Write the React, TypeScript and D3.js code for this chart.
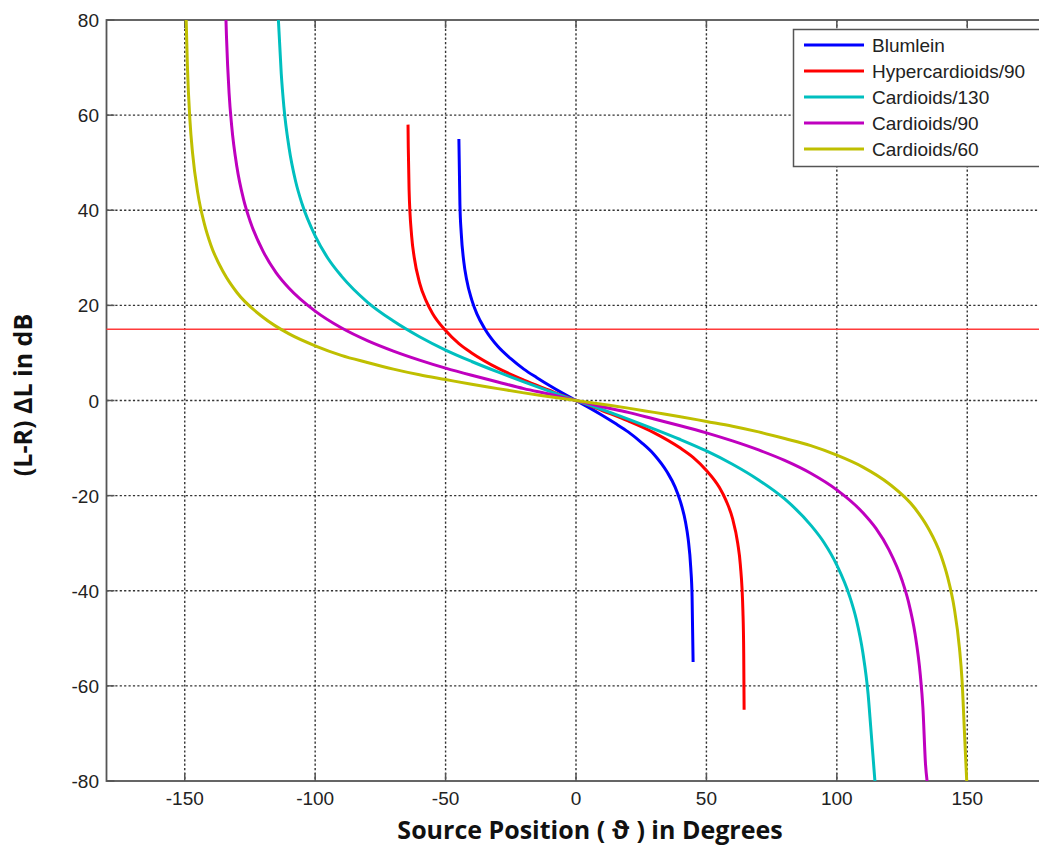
import React, { useRef, useEffect } from "react";
import * as d3 from "d3";

// Chart size
const WIDTH = 1039;
const HEIGHT = 846;
const PLOT_LEFT = 106.5;
const PLOT_RIGHT = 1045.5;
const PLOT_TOP = 20;
const PLOT_BOTTOM = 781;

const X_TICKS = [-150, -100, -50, 0, 50, 100, 150];
const Y_TICKS = [-80, -60, -40, -20, 0, 20, 40, 60, 80];
const THRESHOLD_DB = 15;

const SERIES_NAMES = ["Blumlein", "Hypercardioids/90", "Cardioids/130", "Cardioids/90", "Cardioids/60"];
const SERIES_COLORS = ["#0000ff", "#ff0000", "#00bfbf", "#bf00bf", "#bfbf00"];

// [source position in degrees, level difference in dB]
const blumlein = [
  [-44.9, 55], [-44.5, 41.2], [-44, 35.2], [-43, 29.1], [-42, 25.6], [-40, 21.2], [-38, 18.2],
  [-35, 15.1], [-30, 11.4], [-25, 8.8], [-20, 6.6], [-15, 4.8], [-10, 3.1], [-5, 1.5], [0, 0],
  [5, -1.5], [10, -3.1], [15, -4.8], [20, -6.6], [25, -8.8], [30, -11.4], [35, -15.1], [38, -18.2],
  [40, -21.2], [42, -25.6], [43, -29.1], [44, -35.2], [44.5, -41.2], [44.9, -55],
];
const hyper90 = [
  [-64.4, 58], [-64.3, 53.2], [-64, 44.4], [-63, 34.5], [-62, 30.0], [-60, 24.8], [-57.5, 21.0],
  [-55, 18.3], [-50, 14.7], [-45, 12.0], [-40, 10.0], [-30, 6.8], [-20, 4.3], [-10, 2.1], [-5, 1.0],
  [0, 0], [5, -1.0], [10, -2.1], [20, -4.3], [30, -6.8], [40, -10.0], [45, -12.0], [50, -14.7],
  [55, -18.3], [57.5, -21.0], [60, -24.8], [62, -30.0], [63, -34.5], [64, -44.4], [64.3, -53.2],
  [64.45, -65],
];
const card130 = [
  [-114.1, 80], [-113, 68.7], [-112, 61.8], [-110, 53.1], [-107.5, 46.1], [-105, 41.3], [-100, 34.6],
  [-95, 29.8], [-90, 26.2], [-80, 20.7], [-70, 16.7], [-60, 13.4], [-50, 10.6], [-40, 8.2], [-30, 6.0],
  [-20, 3.9], [-10, 1.9], [0, 0], [10, -1.9], [20, -3.9], [30, -6.0], [40, -8.2], [50, -10.6],
  [60, -13.4], [70, -16.7], [80, -20.7], [90, -26.2], [95, -29.8], [100, -34.6], [105, -41.3],
  [107.5, -46.1], [110, -53.1], [112, -61.8], [113, -68.7], [114.6, -80],
];
const card90 = [
  [-134.2, 80], [-134, 76.5], [-133, 64.6], [-132, 57.7], [-130, 49.1], [-127.5, 42.4], [-125, 37.8],
  [-120, 31.4], [-115, 26.9], [-110, 23.6], [-100, 18.8], [-90, 15.3], [-80, 12.6], [-70, 10.4],
  [-60, 8.5], [-50, 6.8], [-40, 5.3], [-30, 3.9], [-20, 2.5], [-10, 1.3], [0, 0], [10, -1.3],
  [20, -2.5], [30, -3.9], [40, -5.3], [50, -6.8], [60, -8.5], [70, -10.4], [80, -12.6], [90, -15.3],
  [100, -18.8], [110, -23.6], [115, -26.9], [120, -31.4], [125, -37.8], [127.5, -42.4], [130, -49.1],
  [132, -57.7], [133, -64.6], [134, -76.5], [134.6, -80],
];
const card60 = [
  [-149.45, 80], [-149, 70.6], [-148, 58.8], [-147, 52.0], [-145, 43.6], [-142.5, 37.2], [-140, 32.7],
  [-135, 26.8], [-130, 22.7], [-120, 17.5], [-110, 14.0], [-100, 11.5], [-90, 9.5], [-80, 8.0],
  [-70, 6.6], [-60, 5.4], [-50, 4.4], [-40, 3.4], [-30, 2.5], [-20, 1.6], [-10, 0.8], [0, 0],
  [10, -0.8], [20, -1.6], [30, -2.5], [40, -3.4], [50, -4.4], [60, -5.4], [70, -6.6], [80, -8.0],
  [90, -9.5], [100, -11.5], [110, -14.0], [120, -17.5], [130, -22.7], [135, -26.8], [140, -32.7],
  [142.5, -37.2], [145, -43.6], [147, -52.0], [148, -58.8], [149, -70.6], [149.8, -80],
];
const SERIES_DATA = [blumlein, hyper90, card130, card90, card60];

export default function App() {
  const svgRef = useRef(null);

  useEffect(() => {
    document.body.style.margin = "0";
    drawChart();
  }, []);

  function drawChart() {
    const svg = d3.select(svgRef.current);
    svg.selectAll("*").remove();

    const x = d3.scaleLinear().domain([-180, 180]).range([PLOT_LEFT, PLOT_RIGHT]);
    const y = d3.scaleLinear().domain([-80, 80]).range([PLOT_BOTTOM, PLOT_TOP]);

    svg.append("rect").attr("width", WIDTH).attr("height", HEIGHT).attr("fill", "#fff");

    svg.append("defs").append("clipPath").attr("id", "plot-clip")
      .append("rect")
      .attr("x", PLOT_LEFT).attr("y", PLOT_TOP)
      .attr("width", PLOT_RIGHT - PLOT_LEFT).attr("height", PLOT_BOTTOM - PLOT_TOP);

    // grid
    const grid = svg.append("g").attr("stroke", "#333").attr("stroke-width", 1.4)
      .attr("stroke-dasharray", "2.2,2.2");
    X_TICKS.forEach((t) => {
      grid.append("line").attr("x1", x(t)).attr("x2", x(t)).attr("y1", PLOT_TOP).attr("y2", PLOT_BOTTOM);
    });
    Y_TICKS.slice(1, -1).forEach((t) => {
      grid.append("line").attr("x1", PLOT_LEFT).attr("x2", PLOT_RIGHT).attr("y1", y(t)).attr("y2", y(t));
    });

    // tick marks
    const ticks = svg.append("g").attr("stroke", "#555").attr("stroke-width", 1.5);
    X_TICKS.forEach((t) => {
      ticks.append("line").attr("x1", x(t)).attr("x2", x(t)).attr("y1", PLOT_BOTTOM).attr("y2", PLOT_BOTTOM - 8);
      ticks.append("line").attr("x1", x(t)).attr("x2", x(t)).attr("y1", PLOT_TOP).attr("y2", PLOT_TOP + 8);
    });
    Y_TICKS.forEach((t) => {
      ticks.append("line").attr("x1", PLOT_LEFT).attr("x2", PLOT_LEFT + 8).attr("y1", y(t)).attr("y2", y(t));
    });

    // frame
    svg.append("rect")
      .attr("x", PLOT_LEFT).attr("y", PLOT_TOP)
      .attr("width", PLOT_RIGHT - PLOT_LEFT).attr("height", PLOT_BOTTOM - PLOT_TOP)
      .attr("fill", "none").attr("stroke", "#555").attr("stroke-width", 1.8);

    // tick labels
    const labelFont = "'Liberation Sans', Arial, sans-serif";
    X_TICKS.forEach((t) => {
      svg.append("text")
        .attr("x", x(t)).attr("y", 805)
        .attr("text-anchor", "middle")
        .style("font-family", labelFont).style("font-size", "19px").style("fill", "#222")
        .text(t);
    });
    Y_TICKS.forEach((t) => {
      svg.append("text")
        .attr("x", 99).attr("y", y(t) + 7)
        .attr("text-anchor", "end")
        .style("font-family", labelFont).style("font-size", "19px").style("fill", "#222")
        .text(t);
    });

    // threshold line
    svg.append("line")
      .attr("x1", PLOT_LEFT).attr("x2", PLOT_RIGHT)
      .attr("y1", y(THRESHOLD_DB)).attr("y2", y(THRESHOLD_DB))
      .attr("stroke", "#ff3b3b").attr("stroke-width", 1.5);

    // curves
    const line = d3.line().x((d) => x(d[0])).y((d) => y(d[1])).curve(d3.curveMonotoneX);
    const curves = svg.append("g").attr("clip-path", "url(#plot-clip)");
    SERIES_DATA.forEach((data, i) => {
      curves.append("path")
        .attr("d", line(data))
        .attr("fill", "none")
        .attr("stroke", SERIES_COLORS[i])
        .attr("stroke-width", 3);
    });

    // legend
    const legend = svg.append("g");
    legend.append("rect")
      .attr("x", 793.5).attr("y", 29.5).attr("width", 260).attr("height", 137)
      .attr("fill", "#fff").attr("stroke", "#555").attr("stroke-width", 1.5);
    SERIES_NAMES.forEach((name, i) => {
      const ly = 45 + i * 26;
      legend.append("line")
        .attr("x1", 804).attr("x2", 864).attr("y1", ly).attr("y2", ly)
        .attr("stroke", SERIES_COLORS[i]).attr("stroke-width", 3);
      legend.append("text")
        .attr("x", 872).attr("y", ly + 7)
        .style("font-family", labelFont).style("font-size", "19px").style("fill", "#222")
        .text(name);
    });

    // axis titles
    const titleFont = "'Open Sans', 'Noto Sans', sans-serif";
    svg.append("text")
      .attr("x", 590).attr("y", 839)
      .attr("text-anchor", "middle")
      .style("font-family", titleFont).style("font-size", "25px").style("font-weight", "bold").style("fill", "#111")
      .text("Source Position ( ϑ ) in Degrees");
    svg.append("text")
      .attr("transform", "translate(32,395) rotate(-90)")
      .attr("text-anchor", "middle")
      .style("font-family", titleFont).style("font-size", "25px").style("font-weight", "bold").style("fill", "#111")
      .text("(L-R) ΔL in dB");
  }

  return (
    <div style={{ position: "relative" }}>
      <svg ref={svgRef} width={WIDTH} height={HEIGHT} style={{ display: "block" }}></svg>
    </div>
  );
}
